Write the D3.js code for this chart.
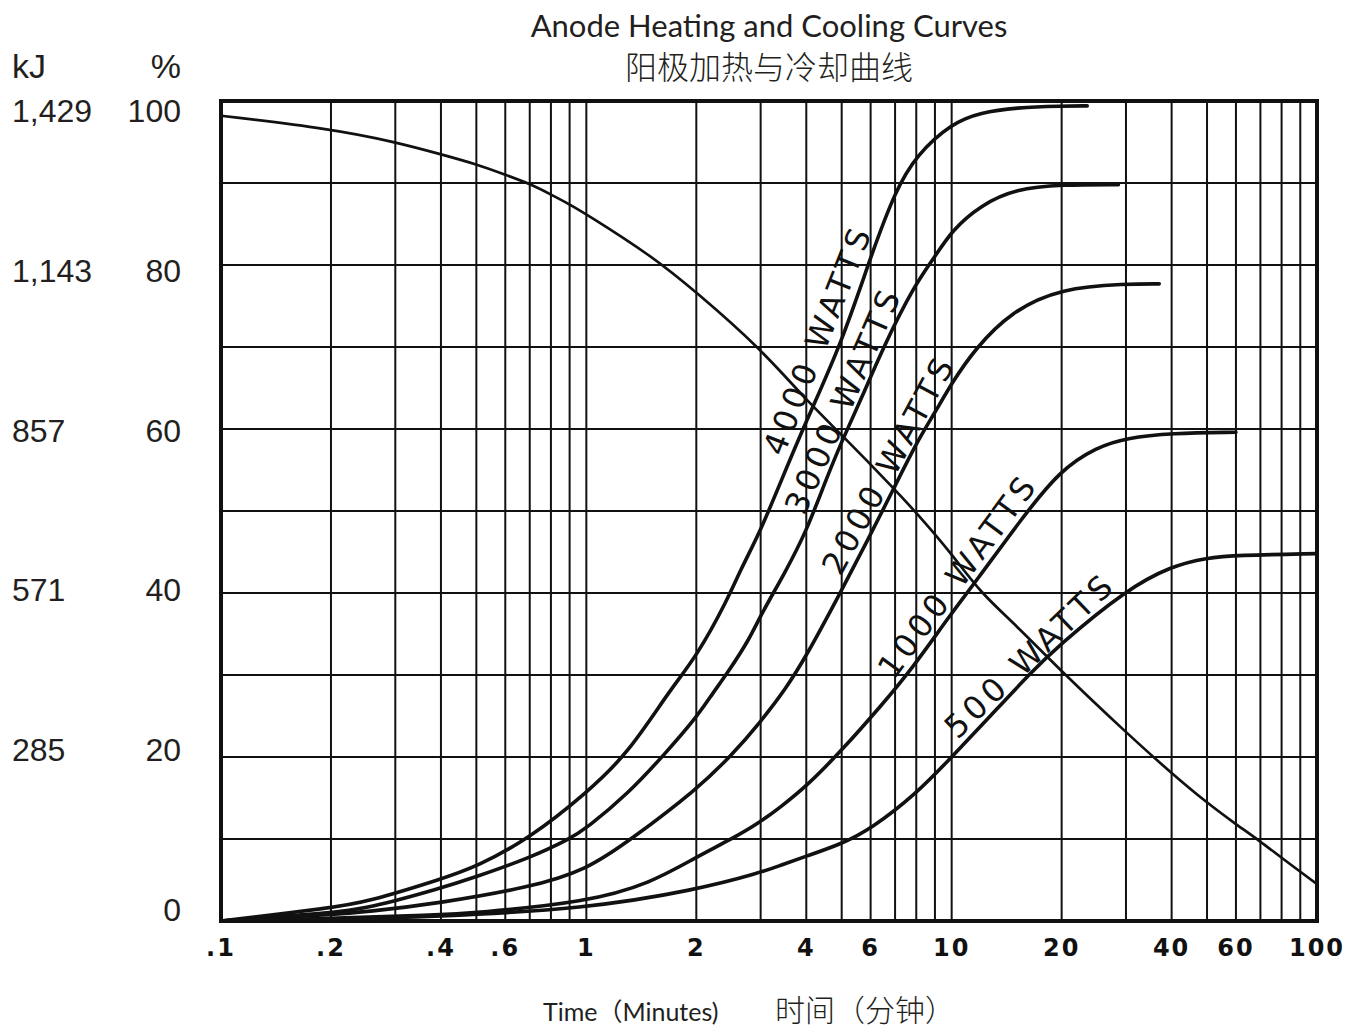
<!DOCTYPE html>
<html>
<head>
<meta charset="utf-8">
<script src="https://cdn.jsdelivr.net/npm/d3@7"></script>
<style>
  body { margin: 0; background: #fff; }
  svg { display: block; }
</style>
</head>
<body>
<div id="chart"></div>
<script>
// tick labels
var xTickVals = [0.1, 0.2, 0.4, 0.6, 1, 2, 4, 6, 10, 20, 40, 60, 100];
var xTickText = [".1", ".2", ".4", ".6", "1", "2", "4", "6", "10", "20", "40", "60", "100"];
var pctTicks = [100, 80, 60, 40, 20, 0];
var kjTicks = ["1,429", "1,143", "857", "571", "285"];

// cooling curve [minutes, %]
var cooling = [[0.1, 98.2], [0.2, 96.6], [0.3, 95.0], [0.4, 93.5], [0.5, 92.3], [0.6, 91.0],
  [0.7, 89.9], [0.8, 88.6], [0.9, 87.4], [1, 86.2], [1.5, 81.2], [2, 76.7], [3, 69.8],
  [4, 63.5], [5, 59.3], [7, 52.6], [8, 49.8], [10, 44.8], [12, 40], [15, 36.1], [20, 30.4],
  [30, 23.0], [40, 18], [50, 14.4], [60, 11.8], [70, 9.7], [80, 7.7], [100, 4.5]];

// heating curves [minutes, %]
var heat4000 = [[0.1, 0], [0.2, 1.6], [0.25, 2.3], [0.4, 5.1], [0.5, 6.6], [0.7, 10.1], [1, 15.6],
  [1.3, 20.4], [1.7, 28.3], [2, 32.2], [2.43, 39.1], [2.64, 42.8], [3, 47.6], [3.4, 53.5],
  [4, 61], [5, 70.5], [6, 81], [7, 89], [8, 93.4], [10, 97.3], [12, 98.6], [15, 99.2],
  [20, 99.4], [23.5, 99.4]];
var heat3000 = [[0.1, 0], [0.2, 1.0], [0.25, 1.5], [0.4, 4.0], [0.5, 5.4], [0.7, 7.7], [0.9, 10],
  [1, 11.3], [1.3, 15.5], [1.65, 20.5], [2, 24.8], [2.22, 27.8], [2.43, 30.2], [2.79, 34.3],
  [3, 37.3], [3.5, 42.5], [4, 47.5], [4.5, 53.5], [5, 58.5], [5.7, 64], [6.5, 70], [7.9, 77.5],
  [9, 81], [10, 84.2], [12, 87.3], [15, 89.3], [20, 89.8], [28.6, 89.8]];
var heat2000 = [[0.1, 0], [0.2, 0.8], [0.25, 1.1], [0.4, 2.2], [0.7, 4.1], [1, 6.2], [1.33, 10],
  [2, 16], [2.5, 20.2], [3, 24.3], [3.5, 28.2], [4, 32.3], [4.9, 39.6], [5.9, 46.5],
  [6.9, 52.5], [8, 58.3], [9, 62], [10, 65.6], [11.6, 69.8], [14.5, 74.3], [20, 77.2],
  [30, 77.7], [37, 77.7]];
var heat1000 = [[0.1, 0], [0.2, 0.3], [0.38, 0.7], [0.5, 1.0], [1, 2.3], [1.5, 4.6], [2, 7.8],
  [2.5, 10], [3, 12.1], [3.4, 13.9], [4, 16.4], [5, 20.8], [6.4, 26.2], [7.8, 30.8],
  [9.9, 37.3], [11.6, 41.3], [15.5, 49], [19.8, 55], [25, 57.8], [30, 58.9], [40, 59.5],
  [60, 59.6]];
var heat500 = [[0.1, 0], [0.2, 0.2], [0.38, 0.5], [1, 1.5], [2, 3.8], [3, 5.9], [3.4, 6.8],
  [4, 7.9], [5, 9.4], [6, 11.2], [8, 15.5], [10, 20], [12.7, 24.9], [16.4, 30.2],
  [19.5, 33.5], [30, 40.4], [40, 43.3], [50, 44.3], [60, 44.6], [100, 44.8]];

var heatSeries = [heat4000, heat3000, heat2000, heat1000, heat500];
var seriesNames = ["4000 WATTS", "3000 WATTS", "2000 WATTS", "1000 WATTS", "500 WATTS"];
// where each label starts / ends along its curve (minutes)
var labelFrom = [3.6, 4.1, 5.2, 7.5, 11];
var labelTo = [6.3, 7.6, 10.5, 17, 28];

var W = 1358, H = 1028;
var plotL = 221, plotR = 1317, plotT = 101, plotB = 921;

var svg = d3.select("#chart").append("svg")
    .attr("width", W)
    .attr("height", H);

var x = d3.scaleLog().domain([0.1, 100]).range([plotL, plotR]);
var y = d3.scaleLinear().domain([0, 100]).range([plotB, plotT]);
// the side labels are spaced a bit differently than the grid
var yLab = d3.scaleLinear().domain([0, 100]).range([910, 111]);

var ink = "#111";
var textInk = "#231f20";

// grid
svg.append("g").selectAll("line")
  .data(x.ticks())
  .enter().append("line")
    .attr("x1", function(d) { return x(d); })
    .attr("x2", function(d) { return x(d); })
    .attr("y1", plotT)
    .attr("y2", plotB)
    .attr("stroke", ink)
    .attr("stroke-width", 2);

svg.append("g").selectAll("line")
  .data(y.ticks(10))
  .enter().append("line")
    .attr("x1", plotL)
    .attr("x2", plotR)
    .attr("y1", function(d) { return y(d); })
    .attr("y2", function(d) { return y(d); })
    .attr("stroke", ink)
    .attr("stroke-width", 2);

// frame
svg.append("rect")
    .attr("x", plotL)
    .attr("y", plotT)
    .attr("width", plotR - plotL)
    .attr("height", plotB - plotT)
    .attr("fill", "none")
    .attr("stroke", ink)
    .attr("stroke-width", 4);

var line = d3.line()
    .x(function(d) { return x(d[0]); })
    .y(function(d) { return y(d[1]); })
    .curve(d3.curveBasis);

svg.append("path")
    .datum(cooling)
    .attr("d", line)
    .attr("fill", "none")
    .attr("stroke", ink)
    .attr("stroke-width", 2.7);

svg.append("g").selectAll("path")
  .data(heatSeries)
  .enter().append("path")
    .attr("d", line)
    .attr("fill", "none")
    .attr("stroke", ink)
    .attr("stroke-width", 3.6)
    .attr("stroke-linecap", "round");

// value at time t on a series, in log-x space
function valueAt(series, t) {
  var lt = Math.log10(t);
  for (var i = 1; i < series.length; i++) {
    var a = series[i - 1], b = series[i];
    if (t <= b[0]) {
      var f = (lt - Math.log10(a[0])) / (Math.log10(b[0]) - Math.log10(a[0]));
      return a[1] + f * (b[1] - a[1]);
    }
  }
  return series[series.length - 1][1];
}

// curve labels, laid along the chord of each curve
seriesNames.forEach(function(name, i) {
  var s = heatSeries[i];
  var x0 = x(labelFrom[i]), y0 = y(valueAt(s, labelFrom[i]));
  var x1 = x(labelTo[i]), y1 = y(valueAt(s, labelTo[i]));
  var ang = Math.atan2(y1 - y0, x1 - x0) * 180 / Math.PI;
  svg.append("text")
      .attr("transform", "translate(" + ((x0 + x1) / 2) + "," + ((y0 + y1) / 2) + ") rotate(" + ang + ")")
      .attr("y", -7)
      .attr("text-anchor", "middle")
      .attr("font-family", "'DejaVu Sans', sans-serif")
      .attr("font-size", 32)
      .attr("textLength", name.length > 9 ? 240 : 218)
      .attr("lengthAdjust", "spacing")
      .attr("fill", ink)
      .text(name);
});

// x tick labels
svg.append("g").selectAll("text")
  .data(xTickVals)
  .enter().append("text")
    .attr("x", function(d) { return x(d); })
    .attr("y", 956)
    .attr("text-anchor", "middle")
    .attr("font-family", "'DejaVu Sans', sans-serif")
    .attr("font-weight", "bold")
    .attr("font-size", 24)
    .attr("letter-spacing", 2)
    .attr("fill", ink)
    .text(function(d, i) { return xTickText[i]; });

// left labels
svg.append("text")
    .attr("x", 12).attr("y", 66)
    .attr("dominant-baseline", "central")
    .attr("font-family", "'Liberation Sans', Arial, sans-serif")
    .attr("font-size", 34)
    .attr("fill", textInk)
    .text("kJ");
svg.append("text")
    .attr("x", 181).attr("y", 66)
    .attr("text-anchor", "end")
    .attr("dominant-baseline", "central")
    .attr("font-family", "'Liberation Sans', Arial, sans-serif")
    .attr("font-size", 34)
    .attr("fill", textInk)
    .text("%");

svg.append("g").selectAll("text")
  .data(pctTicks)
  .enter().append("text")
    .attr("x", 181)
    .attr("y", function(d) { return yLab(d); })
    .attr("text-anchor", "end")
    .attr("dominant-baseline", "central")
    .attr("font-family", "'Liberation Sans', Arial, sans-serif")
    .attr("font-size", 32)
    .attr("fill", textInk)
    .text(function(d) { return d; });

svg.append("g").selectAll("text")
  .data(kjTicks)
  .enter().append("text")
    .attr("x", 12)
    .attr("y", function(d, i) { return yLab(pctTicks[i]); })
    .attr("dominant-baseline", "central")
    .attr("font-family", "'Liberation Sans', Arial, sans-serif")
    .attr("font-size", 32)
    .attr("fill", textInk)
    .text(function(d) { return d; });

// titles
svg.append("text")
    .attr("x", 769).attr("y", 25)
    .attr("text-anchor", "middle")
    .attr("dominant-baseline", "central")
    .attr("font-family", "Lato, 'Open Sans', sans-serif")
    .attr("font-size", 31)
    .attr("fill", textInk)
    .text("Anode Heating and Cooling Curves");
svg.append("text")
    .attr("x", 769).attr("y", 65)
    .attr("text-anchor", "middle")
    .attr("dominant-baseline", "central")
    .attr("font-family", "'Noto Sans CJK SC', sans-serif")
    .attr("font-weight", 300)
    .attr("font-size", 32)
    .attr("fill", textInk)
    .text("阳极加热与冷却曲线");

svg.append("text")
    .attr("x", 543).attr("y", 1011)
    .attr("dominant-baseline", "central")
    .attr("font-family", "Lato, 'Noto Sans CJK SC', sans-serif")
    .attr("font-size", 25)
    .attr("fill", textInk)
    .text("Time（Minutes)");
svg.append("text")
    .attr("x", 775).attr("y", 1008)
    .attr("dominant-baseline", "central")
    .attr("font-family", "'Noto Sans CJK SC', sans-serif")
    .attr("font-weight", 300)
    .attr("font-size", 30)
    .attr("fill", textInk)
    .text("时间（分钟）");
</script>
</body>
</html>
